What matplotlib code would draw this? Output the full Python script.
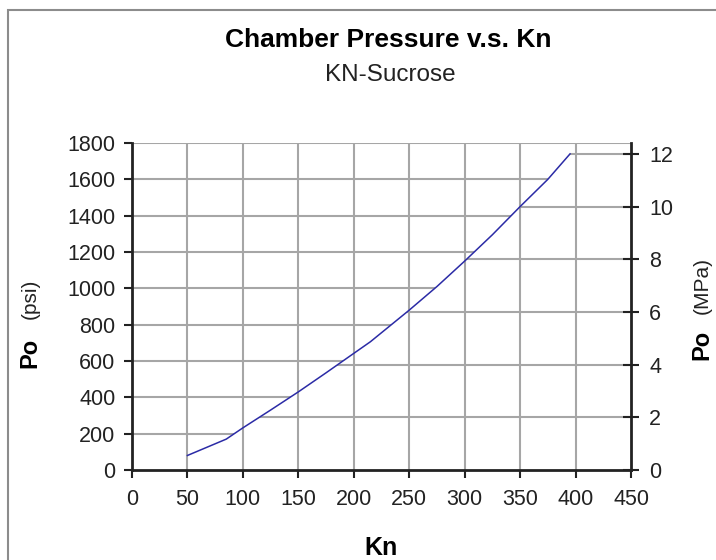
import numpy as np
import matplotlib
matplotlib.use('Agg')
import matplotlib.pyplot as plt
from matplotlib.patches import Polygon, Rectangle

plt.rcParams['font.family'] = ['Liberation Sans', 'DejaVu Sans']

# Kn vs chamber pressure (psi)
kn = [50, 85, 100, 125, 150, 175, 200, 215, 250, 275, 300, 325, 350, 375, 395]
po_psi = [80, 170, 232, 330, 430, 535, 642, 706, 880, 1010, 1150, 1295, 1450, 1600, 1740]

psi_ticks = list(range(0, 1801, 200))
mpa_ticks = [0, 2, 4, 6, 8, 10, 12]
kn_ticks = list(range(0, 451, 50))
PSI_PER_MPA = 145.04

W, H = 716, 560
fig = plt.figure(figsize=(W / 100, H / 100), dpi=100)
ax = fig.add_axes([132 / W, 1 - 470 / H, (631 - 132) / W, (470 - 143) / H])
ax2 = ax.twinx()

ax.set_xlim(0, 450)
ax.set_ylim(0, 1800)
ax2.set_ylim(0, 1800 / PSI_PER_MPA)

grid_c = '#a6a6a6'
# region above the curve -> psi gridlines, below -> MPa gridlines
last = po_psi[-1]
pad = 8
above = [(0, 1800), (0, po_psi[0]), (kn[0], po_psi[0])] + list(zip(kn, po_psi)) + [(450, last + pad), (450, 1800)]
below = [(kn[0], 0), (kn[0], po_psi[0])] + list(zip(kn, po_psi)) + [(kn[-1], last + pad), (450, last + pad), (450, 0)]
clip_above = Polygon(above, closed=True, transform=ax.transData)
clip_below = Polygon(below, closed=True, transform=ax.transData)

for v in psi_ticks[1:]:
    ln, = ax.plot([0, 450], [v, v], color=grid_c, lw=1.5, zorder=1)
    ln.set_clip_path(clip_above)
for m in mpa_ticks[1:]:
    v = m * PSI_PER_MPA
    ln, = ax.plot([0, 450], [v, v], color=grid_c, lw=1.5, zorder=1)
    ln.set_clip_path(clip_below)
for v in kn_ticks[1:-1]:
    ax.axvline(v, color=grid_c, lw=1.5, zorder=1)

ax.plot(kn, po_psi, color='#2b2ba6', lw=1.1, zorder=3)

tick_font = dict(fontsize=15.5, color='#222222')
ax.set_xticks(kn_ticks)
ax.set_yticks(psi_ticks)
ax2.set_yticks(mpa_ticks)
ax.set_xticklabels([str(v) for v in kn_ticks], **tick_font)
ax.set_yticklabels([str(v) for v in psi_ticks], **tick_font)
ax2.set_yticklabels([str(v) for v in mpa_ticks], **tick_font)

ax.tick_params(axis='x', direction='out', length=6, width=1.5, pad=8, color='#222222')
ax.tick_params(axis='y', direction='out', length=6, width=1.5, pad=6, color='#222222')
ax2.tick_params(axis='y', direction='inout', length=12, width=1.5, pad=7, color='#222222')

for a in (ax, ax2):
    a.spines['top'].set_visible(False)
    for s in ('left', 'right', 'bottom'):
        a.spines[s].set_color('#222222')
        a.spines[s].set_linewidth(2)
ax2.spines['left'].set_visible(False)
ax2.spines['bottom'].set_visible(False)
ax.spines['right'].set_visible(False)

fig.text(388 / W, 1 - 40 / H, 'Chamber Pressure v.s. Kn', ha='center', va='center',
         fontsize=19, fontweight='bold', color='black')
fig.text(390 / W, 1 - 75 / H, 'KN-Sucrose', ha='center', va='center',
         fontsize=17.5, color='#222222')
fig.text(381 / W, 1 - 548 / H, 'Kn', ha='center', va='center',
         fontsize=18, fontweight='bold', color='black')

fig.text(30 / W, 1 - 353 / H, 'Po', rotation=90, ha='center', va='center',
         fontsize=17, fontweight='bold', color='black')
fig.text(30 / W, 1 - 299 / H, '(psi)', rotation=90, ha='center', va='center',
         fontsize=15, color='#222222')
fig.text(702 / W, 1 - 345 / H, 'Po', rotation=90, ha='center', va='center',
         fontsize=17, fontweight='bold', color='black')
fig.text(702 / W, 1 - 285 / H, '(MPa)', rotation=90, ha='center', va='center',
         fontsize=15, color='#222222')

# chart area border (left and top visible)
fig.add_artist(Rectangle((8 / W, -0.1), 1.2, 1 - 10 / H + 0.1, transform=fig.transFigure,
                         fill=False, edgecolor='#8c8c8c', lw=1.5))

fig.savefig('out.png', dpi=100)
